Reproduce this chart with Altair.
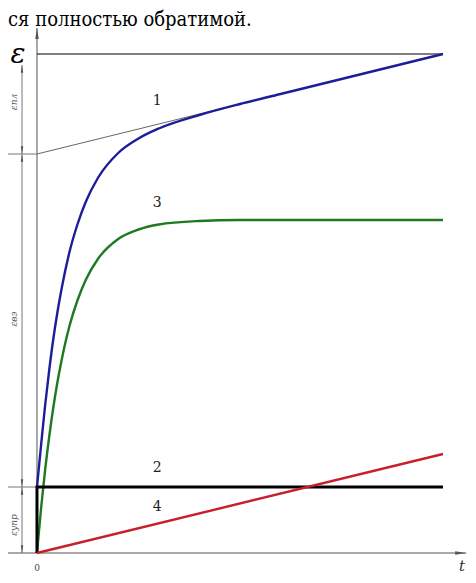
import altair as alt
import pandas as pd

# ---- data (t in arbitrary time units, v in strain units) ----
t_pts = [0, 0.1, 0.2, 0.3, 0.4, 0.5, 0.6, 0.8, 1.0, 1.2, 1.5, 2.0, 2.5, 3.0, 4.0, 5.0, 6.0, 8.0, 10.0]
curve1 = [1.32, 2.15, 2.95, 3.65, 4.27, 4.80, 5.26, 6.02, 6.58, 7.02, 7.50, 8.00, 8.29, 8.49, 8.76, 8.98, 9.18, 9.58, 9.98]
curve3 = [0.00, 0.89, 1.66, 2.32, 2.90, 3.40, 3.83, 4.54, 5.06, 5.46, 5.88, 6.28, 6.47, 6.57, 6.64, 6.66, 6.66, 6.66, 6.66]
line2_t = [0, 0, 10]
line2_v = [0, 1.32, 1.32]
line4_t = [0, 10]
line4_v = [0, 1.98]
asym_t = [0, 10]
asym_v = [7.98, 9.98]
eps_total = 9.98
eps_elastic = 1.32
eps_asym0 = 7.98

curve_labels = ["1", "3", "2", "4"]
curve_label_t = [2.96, 2.96, 2.96, 2.96]
curve_label_v = [9.04, 7.00, 1.70, 0.92]

dim_labels = ["εпл", "εвэ", "εупр"]
dim_label_v = [9.02, 4.68, 0.56]

title_text = "ся полностью обратимой."

X_DOM = [-0.714, 10.616]
Y_DOM = [-0.44, 10.9]
xs = alt.Scale(domain=X_DOM, nice=False, zero=False)
ys = alt.Scale(domain=Y_DOM, nice=False, zero=False)

def X(f="t"):
    return alt.X(f"{f}:Q", scale=xs, axis=None)

def Y(f="v"):
    return alt.Y(f"{f}:Q", scale=ys, axis=None)

def series(ts, vs):
    return pd.DataFrame({"t": ts, "v": vs, "i": list(range(len(ts)))})

SERIF = "DejaVu Serif"
SERIF_C = "DejaVu Serif Condensed, DejaVu Serif"

# thin reference lines
segs = pd.DataFrame({
    "t": [0, -0.714, -0.369, -0.714, -0.714, 0],
    "t2": [0, 10.57, -0.369, 0, 0, 10],
    "v": [0, 0, 0, eps_asym0, eps_elastic, eps_total],
    "v2": [10.5, 0, 9.76, eps_asym0, eps_elastic, eps_total],
    "c": ["axis", "axis", "dim", "dim", "dim", "top"],
})
axes_rules = alt.Chart(segs).mark_rule(strokeWidth=1).encode(
    x=X(), x2="t2:Q", y=Y(), y2="v2:Q",
    color=alt.Color("c:N", scale=alt.Scale(domain=["axis", "dim", "top"],
                                           range=["#555555", "#777777", "#000000"]), legend=None),
)

asym = alt.Chart(series(asym_t, asym_v)).mark_line(color="#666666", strokeWidth=1).encode(
    x=X(), y=Y(), order="i:Q")

green = alt.Chart(series(t_pts, curve3)).mark_line(color="#1f7a1f", strokeWidth=2.4, interpolate="monotone").encode(
    x=X(), y=Y(), order="i:Q")
blue = alt.Chart(series(t_pts, curve1)).mark_line(color="#1d1d9a", strokeWidth=2.4, interpolate="monotone").encode(
    x=X(), y=Y(), order="i:Q")
black = alt.Chart(series(line2_t, line2_v)).mark_line(color="#000000", strokeWidth=3).encode(
    x=X(), y=Y(), order="i:Q")
red = alt.Chart(series(line4_t, line4_v)).mark_line(color="#c8202a", strokeWidth=2.4).encode(
    x=X(), y=Y(), order="i:Q")

# arrow heads (tip at the point)
ARROW = "M0,0L-0.32,2L0.32,2Z"
arrows = pd.DataFrame({
    "t": [0, 10.57, -0.369, -0.369, -0.369, -0.369, -0.369, -0.369],
    "v": [10.5, 0, 9.76, eps_asym0, eps_asym0, eps_elastic, eps_elastic, 0],
    "a": [0, 90, 0, 180, 0, 180, 0, 180],
    "s": [120, 120, 60, 60, 60, 60, 60, 60],
})
arrow_marks = alt.Chart(arrows).mark_point(shape=ARROW, filled=True, color="#555555", opacity=1, strokeWidth=0).encode(
    x=X(), y=Y(), angle=alt.Angle("a:Q", scale=None), size=alt.Size("s:Q", scale=None))

# labels
lab_df = pd.DataFrame({"t": curve_label_t, "v": curve_label_v, "txt": curve_labels})
labels = alt.Chart(lab_df).mark_text(font=SERIF, fontSize=14, color="#222222", baseline="middle").encode(
    x=X(), y=Y(), text="txt:N")

dim_df = pd.DataFrame({"t": [-0.57] * 3, "v": dim_label_v, "txt": dim_labels})
dim_text = alt.Chart(dim_df).mark_text(font=SERIF, fontSize=9, fontStyle="italic", angle=270,
                                       color="#555555", baseline="middle").encode(
    x=X(), y=Y(), text="txt:N")

eps_df = pd.DataFrame({"t": [-0.468], "v": [9.96], "txt": ["ε"]})
eps_text = alt.Chart(eps_df).mark_text(font=SERIF, fontSize=28, fontStyle="italic", color="#000000",
                                       baseline="middle").encode(x=X(), y=Y(), text="txt:N")

ax0_df = pd.DataFrame({"t": [0], "v": [-0.3], "txt": ["0"]})
ax1_df = pd.DataFrame({"t": [10.47], "v": [-0.26], "txt": ["t"]})
ax_text0 = alt.Chart(ax0_df).mark_text(font=SERIF, fontSize=9, color="#444444", baseline="middle").encode(
    x=X(), y=Y(), text="txt:N")
ax_text1 = alt.Chart(ax1_df).mark_text(font=SERIF, fontSize=15, fontStyle="italic", color="#333333",
                                       baseline="middle").encode(x=X(), y=Y(), text="txt:N")

title_df = pd.DataFrame({"txt": [title_text]})
title = alt.Chart(title_df).mark_text(font=SERIF_C, fontSize=20, color="#000000", align="left",
                                      baseline="alphabetic").encode(
    x=alt.value(0), y=alt.value(18), text="txt:N")

chart = alt.layer(
    axes_rules, asym, green, blue, black, red, arrow_marks, labels, dim_text, eps_text, ax_text0, ax_text1, title
).properties(
    width=460, height=567, autosize=alt.AutoSizeParams(type="none"), padding=0
).configure_view(stroke=None)

chart.save("out.html", embed_options={"renderer": "svg", "actions": False})
